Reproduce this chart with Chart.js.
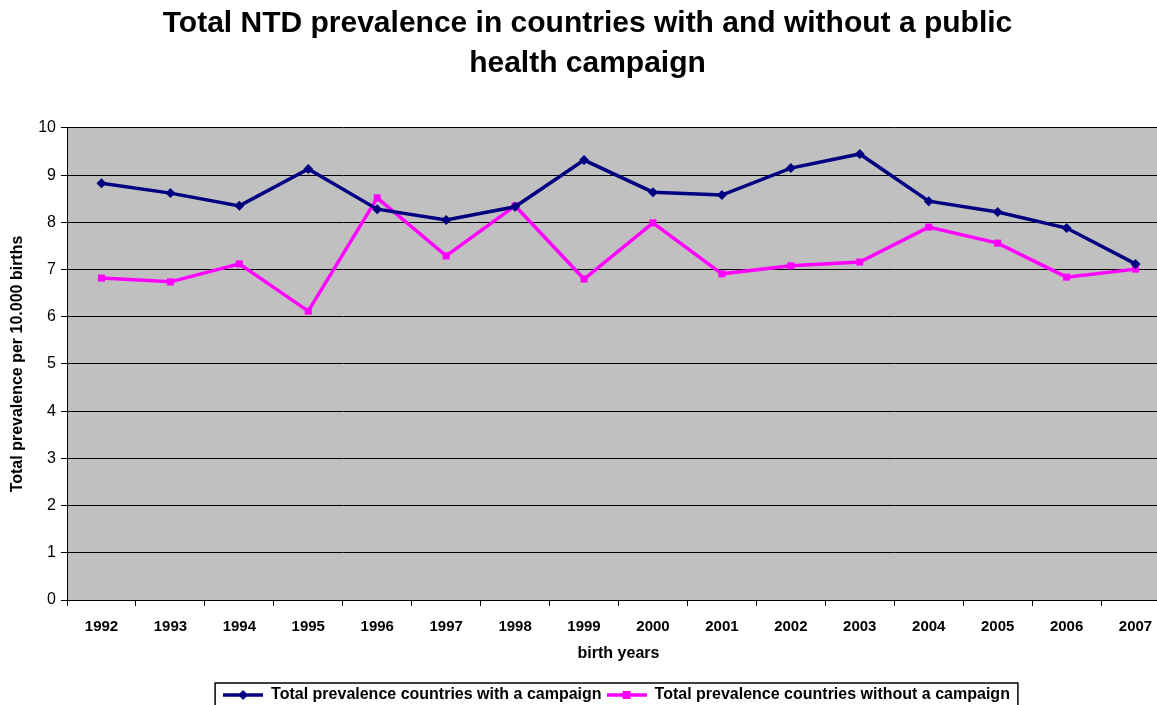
<!DOCTYPE html>
<html>
<head>
<meta charset="utf-8">
<script src="https://cdn.jsdelivr.net/npm/chart.js@4"></script>
<style>
  html, body { margin: 0; padding: 0; background: #fff; overflow: hidden; }
  #wrap { width: 1175px; height: 705px; }
</style>
</head>
<body>
<div id="wrap"><canvas id="chart1"></canvas></div>
<script>
var years = ["1992", "1993", "1994", "1995", "1996", "1997", "1998", "1999",
  "2000", "2001", "2002", "2003", "2004", "2005", "2006", "2007"];
var withCampaign = [8.83, 8.62, 8.35, 9.13, 8.28, 8.05, 8.33, 9.32,
  8.64, 8.58, 9.15, 9.45, 8.45, 8.22, 7.88, 7.12];
var withoutCampaign = [6.82, 6.74, 7.12, 6.12, 8.52, 7.29, 8.35, 6.80,
  7.99, 6.91, 7.08, 7.16, 7.90, 7.56, 6.84, 7.01];

Chart.defaults.font.family = "'Liberation Sans', Arial, sans-serif";
Chart.defaults.color = "#000";

// small line+marker icons for the legend
function legendIcon(color, marker) {
  var c = document.createElement("canvas");
  c.width = 40;
  c.height = 12;
  var g = c.getContext("2d");
  g.strokeStyle = color;
  g.fillStyle = color;
  g.lineWidth = 3.5;
  g.beginPath();
  g.moveTo(0, 6);
  g.lineTo(40, 6);
  g.stroke();
  g.beginPath();
  if (marker === "diamond") {
    g.moveTo(20, 1);
    g.lineTo(25, 6);
    g.lineTo(20, 11);
    g.lineTo(15, 6);
  } else {
    g.rect(16, 2, 8, 8);
  }
  g.fill();
  return c;
}

var plotBg = {
  id: "plotBg",
  beforeDraw: function (chart) {
    var a = chart.chartArea;
    var ctx = chart.ctx;
    ctx.save();
    ctx.fillStyle = "#fff";
    ctx.fillRect(0, 0, chart.width, chart.height);
    ctx.fillStyle = "#c0c0c0";
    ctx.fillRect(a.left, a.top, a.right - a.left, a.bottom - a.top);
    ctx.restore();
  },
  afterLayout: function (chart) {
    // legend sits centred under the plot area, not the canvas
    var lg = chart.legend;
    var h = lg.bottom - lg.top;
    lg.left += 29;
    lg.right += 29;
    lg.top = 682;
    lg.bottom = 682 + h;
  },
  afterDraw: function (chart) {
    var lg = chart.legend;
    var boxes = lg.legendHitBoxes;
    if (!boxes || !boxes.length) return;
    var x0 = boxes[0].left - 8;
    var last = boxes[boxes.length - 1];
    var x1 = last.left + last.width + 8;
    var ctx = chart.ctx;
    ctx.save();
    ctx.strokeStyle = "#000";
    ctx.lineWidth = 1.5;
    ctx.strokeRect(x0, 683, x1 - x0, 40);
    ctx.restore();
  }
};

var ctx = document.getElementById("chart1").getContext("2d");
var myChart = new Chart(ctx, {
  type: "line",
  data: {
    labels: years,
    datasets: [
      {
        label: "Total prevalence countries with a campaign",
        data: withCampaign,
        borderColor: "#000080",
        backgroundColor: "#000080",
        borderWidth: 3.5,
        pointStyle: "rectRot",
        pointRadius: 5,
        pointBorderWidth: 0,
        fill: false,
        tension: 0,
      },
      {
        label: "Total prevalence countries without a campaign",
        data: withoutCampaign,
        borderColor: "#ff00ff",
        backgroundColor: "#ff00ff",
        borderWidth: 3.5,
        pointStyle: "rect",
        pointRadius: 5,
        pointBorderWidth: 0,
        fill: false,
        tension: 0,
      },
    ],
  },
  options: {
    responsive: true,
    maintainAspectRatio: false,
    animation: false,
    layout: { padding: 0 },
    plugins: {
      title: {
        display: true,
        text: ["Total NTD prevalence in countries with and without a public", "health campaign"],
        font: { size: 30, weight: "bold", lineHeight: 1.333 },
        padding: { top: 4, bottom: 44 },
        color: "#000",
      },
      legend: {
        position: "bottom",
        labels: {
          usePointStyle: true,
          pointStyleWidth: 40,
          padding: 5,
          font: { size: 16, weight: "bold" },
          color: "#000",
          generateLabels: function (chart) {
            return [
              { text: chart.data.datasets[0].label, pointStyle: legendIcon("#000080", "diamond"), fontColor: "#000", lineWidth: 0, datasetIndex: 0 },
              { text: chart.data.datasets[1].label, pointStyle: legendIcon("#ff00ff", "square"), fontColor: "#000", lineWidth: 0, datasetIndex: 1 },
            ];
          },
        },
      },
      tooltip: { enabled: false },
    },
    scales: {
      x: {
        offset: true,
        grid: {
          offset: true,
          drawOnChartArea: false,
          drawTicks: true,
          tickLength: 6,
          color: "#000",
        },
        border: { color: "#000", width: 1 },
        ticks: {
          font: { size: 15, weight: "bold" },
          padding: 12,
          maxRotation: 0,
          autoSkip: false,
        },
        title: {
          display: true,
          text: "birth years",
          font: { size: 16, weight: "bold" },
          padding: { top: 6, bottom: 11 },
        },
        afterFit: function (scale) {
          scale.height = 705 - 600 - scale.chart.legend.height;
        },
      },
      y: {
        min: 0,
        max: 10,
        ticks: {
          stepSize: 1,
          font: { size: 16 },
          padding: 5,
        },
        grid: {
          color: "#000",
          lineWidth: 1,
          tickLength: 6,
        },
        border: { color: "#000", width: 1 },
        title: {
          display: true,
          text: "Total prevalence per 10.000 births",
          font: { size: 16, weight: "bold" },
          padding: { top: 8, bottom: 0 },
        },
        afterFit: function (scale) {
          scale.width = 67;
        },
      },
    },
  },
  plugins: [plotBg],
});
</script>
</body>
</html>
